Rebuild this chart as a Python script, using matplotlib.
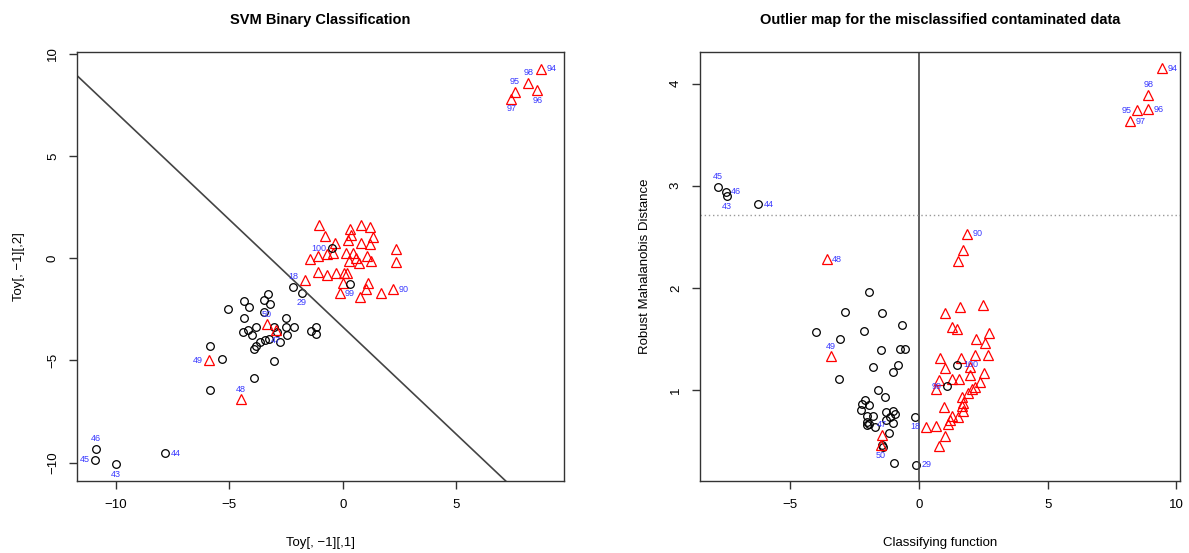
import matplotlib.pyplot as plt
import numpy as np

plt.rcParams['font.family'] = ['Liberation Sans', 'DejaVu Sans']

# ---- left panel: SVM on the toy data ----
left_circ_x = [-5.07, -4.37, -4.13, -4.37, -3.48, -3.30, -3.19, -3.48, -3.85, -4.39, -4.19, -4.00,
               -3.92, -3.81, -3.66, -3.45, -3.24, -3.04, -2.92, -2.77, -2.52, -2.52, -2.15, -2.48,
               -1.42, -1.19, -1.19, -5.84, -5.32, -3.04, -3.92, -5.84]
left_circ_y = [-2.49, -2.09, -2.38, -2.90, -2.02, -1.73, -2.22, -2.62, -3.36, -3.60, -3.49, -3.77,
               -4.42, -4.30, -4.09, -4.01, -3.93, -3.36, -3.60, -4.09, -2.92, -3.36, -3.36, -3.77,
               -3.56, -3.36, -3.68, -4.29, -4.94, -5.04, -5.88, -6.45]

left_tri_x = [-1.04, -0.79, 0.31, 0.82, 1.19, 0.38, 1.33, -0.35, 0.23, 0.78, 1.19, 2.33, 2.33,
              -1.45, -1.09, -0.72, -0.43, 0.16, 0.45, 0.60, 1.07, 1.26, 0.28, 0.72, -1.09, -0.69,
              -0.31, 0.04, 0.19, -1.67, 0.01, 1.11, 1.01, -0.13, 0.75, 1.70]
left_tri_y = [1.65, 1.11, 1.44, 1.65, 1.55, 1.16, 1.06, 0.73, 0.90, 0.75, 0.70, 0.45, -0.16,
              -0.04, 0.12, 0.20, 0.28, 0.24, 0.28, 0.04, 0.12, -0.12, -0.12, -0.25, -0.65, -0.81,
              -0.74, -0.74, -0.70, -1.05, -1.19, -1.19, -1.51, -1.68, -1.89, -1.68]

left_lab = ['94', '98', '95', '96', '97', '100', '99', '90', '18', '29', '49', '48', '50', '47',
            '46', '45', '43', '44']
left_lab_x = [8.73, 8.17, 7.58, 8.58, 7.43, -0.50, 0.31, 2.22, -2.18, -1.81, -5.91, -4.48, -3.36,
              -2.96, -10.88, -10.93, -10.00, -7.83]
left_lab_y = [9.28, 8.58, 8.14, 8.22, 7.81, 0.50, -1.24, -1.51, -1.40, -1.69, -4.99, -6.91, -3.23,
              -3.52, -9.31, -9.87, -10.09, -9.55]
left_lab_shape = ['^', '^', '^', '^', '^', 'o', 'o', '^', 'o', 'o', '^', '^', '^', '^',
                  'o', 'o', 'o', 'o']
left_lab_pos = ['r', 't', 't', 'b', 'b', 'l', 'b', 'r', 't', 'b', 'l', 't', 't', 'b',
                't', 'l', 'b', 'r']

svm_intercept = -3.36
svm_slope = -1.05

# ---- right panel: outlier map ----
right_circ_x = [-1.93, -2.88, -1.43, -0.66, -4.00, -2.13, -3.07, -1.48, -0.74, -0.54, -1.78, -0.80,
                -1.00, -3.12, -1.58, -1.31, -2.10, -2.23, -1.93, -2.25, -2.03, -1.78, -1.28, -1.00,
                -0.93, -1.13, -1.28, -2.01, -1.93, -2.03, -1.71, -1.02, -1.15, -1.45, -1.41, -0.96]
right_circ_y = [1.96, 1.76, 1.75, 1.64, 1.57, 1.58, 1.50, 1.39, 1.40, 1.40, 1.23, 1.25,
                1.18, 1.11, 1.00, 0.93, 0.90, 0.86, 0.85, 0.81, 0.75, 0.75, 0.79, 0.80,
                0.77, 0.74, 0.71, 0.69, 0.67, 0.66, 0.64, 0.68, 0.58, 0.46, 0.44, 0.29]

right_tri_x = [1.70, 1.53, 1.59, 2.47, 1.00, 1.27, 1.46, 2.72, 2.22, 2.55, 0.82, 1.62, 2.16, 2.68,
               1.00, 1.98, 0.79, 1.27, 1.55, 1.98, 2.54, 0.65, 2.37, 2.18, 2.05, 1.92, 1.66, 1.72,
               1.66, 0.97, 1.70, 1.53, 1.27, 1.20, 1.11, 0.26, 0.67, 1.01, 0.78]
right_tri_y = [2.37, 2.26, 1.81, 1.83, 1.75, 1.62, 1.60, 1.56, 1.50, 1.46, 1.31, 1.31, 1.34, 1.34,
               1.22, 1.23, 1.10, 1.11, 1.11, 1.15, 1.17, 1.01, 1.08, 1.03, 1.01, 0.97, 0.93, 0.87,
               0.84, 0.83, 0.80, 0.74, 0.75, 0.71, 0.67, 0.64, 0.65, 0.55, 0.45]

right_lab = ['94', '98', '95', '96', '97', '45', '46', '43', '44', '48', '49', '90', '100', '99',
             '18', '29', '47', '50']
right_lab_x = [9.43, 8.91, 8.46, 8.91, 8.20, -7.80, -7.51, -7.47, -6.25, -3.59, -3.43, 1.85, 1.49,
               1.08, -0.16, -0.12, -1.44, -1.48]
right_lab_y = [4.15, 3.89, 3.74, 3.75, 3.63, 2.99, 2.94, 2.90, 2.82, 2.28, 1.33, 2.53, 1.25,
               1.04, 0.74, 0.27, 0.56, 0.46]
right_lab_shape = ['^', '^', '^', '^', '^', 'o', 'o', 'o', 'o', '^', '^', '^', 'o', 'o',
                   'o', 'o', '^', '^']
right_lab_pos = ['r', 't', 'l', 'r', 'r', 't', 'r', 'b', 'r', 'r', 't', 'r', 'r', 'l',
                 'b', 'r', 't', 'b']

cutoff = 2.716

W, H = 1189, 553
fig = plt.figure(figsize=(W / 100, H / 100), dpi=100)

box_col = '#333333'
lab_col = '#3838ff'
offsets = {'r': (4, 0, 'left', 'center'), 'l': (-4, 0, 'right', 'center'),
           't': (0, 4, 'center', 'bottom'), 'b': (0, -4, 'center', 'top')}


def style(ax):
    for s in ax.spines.values():
        s.set_color(box_col)
        s.set_linewidth(1.0)
    ax.tick_params(direction='out', length=6, width=1, color=box_col, labelsize=9.5, pad=7)
    ax.tick_params(axis='y', labelrotation=90)
    for t in ax.get_yticklabels():
        t.set_va('center')


def points(ax, cx, cy, tx, ty, names, lx, ly, shapes, pos):
    ax.plot(cx, cy, 'o', ms=5.5, mfc='none', mec='black', mew=0.9, ls='none')
    ax.plot(tx, ty, '^', ms=6.5, mfc='none', mec='red', mew=0.9, ls='none')
    for n, x, y, sh, p in zip(names, lx, ly, shapes, pos):
        if sh == 'o':
            ax.plot(x, y, 'o', ms=5.5, mfc='none', mec='black', mew=0.9)
        else:
            ax.plot(x, y, '^', ms=6.5, mfc='none', mec='red', mew=0.9)
        dx, dy, ha, va = offsets[p]
        ax.annotate(n, (x, y), xytext=(dx, dy), textcoords='offset points',
                    ha=ha, va=va, fontsize=6.5, color=lab_col)


# left
ax1 = fig.add_axes([77 / W, 1 - 481 / H, 487 / W, 429 / H])
points(ax1, left_circ_x, left_circ_y, left_tri_x, left_tri_y,
       left_lab, left_lab_x, left_lab_y, left_lab_shape, left_lab_pos)
ax1.axline((0, svm_intercept), slope=svm_slope, color='#444444', lw=1.2)
ax1.set_xlim(-11.72, 9.75)
ax1.set_ylim(-10.9, 10.1)
ax1.set_xticks([-10, -5, 0, 5])
ax1.set_yticks([-10, -5, 0, 5, 10])
style(ax1)
ax1.set_title('SVM Binary Classification', fontsize=10.5, fontweight='bold', pad=20)
ax1.set_xlabel('Toy[, \u22121][,1]', fontsize=9.5, labelpad=19)
ax1.set_ylabel('Toy[, \u22121][,2]', fontsize=9.5, labelpad=16)

# right
ax2 = fig.add_axes([700 / W, 1 - 481 / H, 480 / W, 429 / H])
points(ax2, right_circ_x, right_circ_y, right_tri_x, right_tri_y,
       right_lab, right_lab_x, right_lab_y, right_lab_shape, right_lab_pos)
ax2.axvline(0, color='#444444', lw=1.2)
ax2.axhline(cutoff, color='#999999', lw=1, ls=(0, (1, 2)))
ax2.set_xlim(-8.51, 10.14)
ax2.set_ylim(0.11, 4.31)
ax2.set_xticks([-5, 0, 5, 10])
ax2.set_yticks([1, 2, 3, 4])
style(ax2)
ax2.set_title('Outlier map for the misclassified contaminated data', fontsize=10.5,
              fontweight='bold', pad=20)
ax2.set_xlabel('Classifying function', fontsize=9.5, labelpad=19)
ax2.set_ylabel('Robust Mahalanobis Distance', fontsize=9.5, labelpad=14)

fig.savefig('out.png', dpi=100)
